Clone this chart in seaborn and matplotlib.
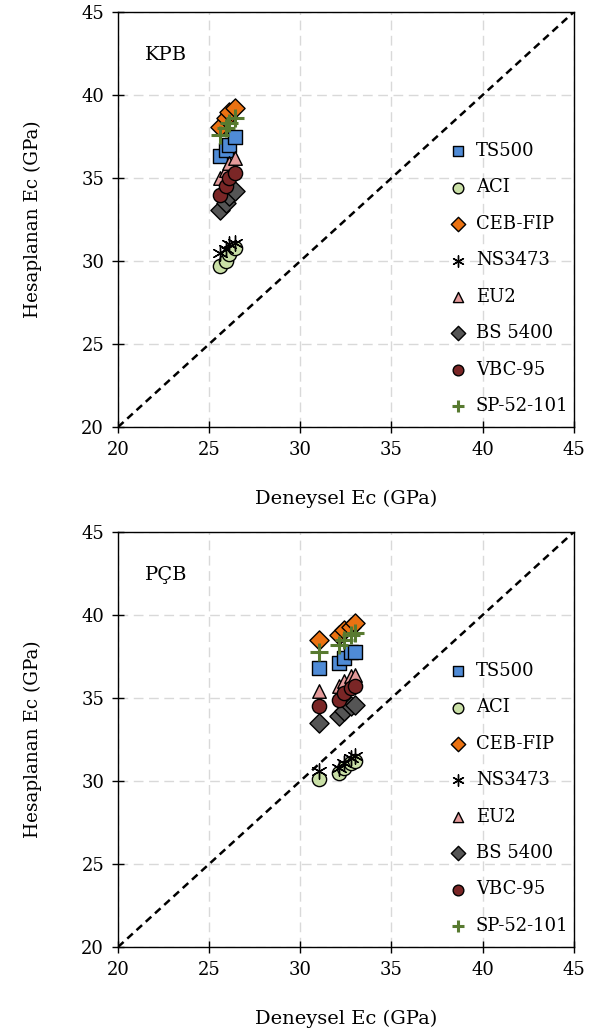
import matplotlib
matplotlib.use("Agg")
import matplotlib.pyplot as plt
import seaborn as sns
import pandas as pd

series = ["TS500", "ACI", "CEB-FIP", "NS3473", "EU2", "BS 5400", "VBC-95", "SP-52-101"]

# Top panel (KPB)
kpb_x = [25.6, 25.9, 26.1, 26.4]
kpb_vals = {
    "TS500":     [36.3, 36.7, 37.0, 37.5],
    "ACI":       [29.7, 30.0, 30.4, 30.8],
    "CEB-FIP":   [38.1, 38.6, 39.0, 39.2],
    "NS3473":    [30.5, 30.7, 31.0, 31.1],
    "EU2":       [35.0, 35.5, 35.9, 36.2],
    "BS 5400":   [33.1, 33.5, 33.9, 34.2],
    "VBC-95":    [34.0, 34.5, 35.0, 35.3],
    "SP-52-101": [37.6, 38.0, 38.3, 38.6],
}

# Bottom panel (PÇB)
pcb_x = [31.0, 32.1, 32.4, 32.8, 33.0]
pcb_vals = {
    "TS500":     [36.8, 37.1, 37.4, 37.8, 37.8],
    "ACI":       [30.1, 30.5, 30.8, 31.1, 31.2],
    "CEB-FIP":   [38.5, 38.8, 39.1, 39.3, 39.5],
    "NS3473":    [30.6, 30.8, 31.1, 31.4, 31.5],
    "EU2":       [35.4, 35.7, 36.0, 36.3, 36.4],
    "BS 5400":   [33.5, 33.9, 34.2, 34.5, 34.6],
    "VBC-95":    [34.5, 34.9, 35.3, 35.6, 35.7],
    "SP-52-101": [37.8, 38.2, 38.5, 38.8, 38.9],
}

panel_titles = ["KPB", "PÇB"]
ticks = [20, 25, 30, 35, 40, 45]

styles = {
    "TS500":     dict(marker="s", color="#4F8BD6"),
    "ACI":       dict(marker="o", color="#C9DFA6"),
    "CEB-FIP":   dict(marker="D", color="#EB7212"),
    "NS3473":    dict(marker=(6, 2, 0), color="black"),
    "EU2":       dict(marker="^", color="#E49A9A"),
    "BS 5400":   dict(marker="D", color="#555555"),
    "VBC-95":    dict(marker="o", color="#7A2626"),
    "SP-52-101": dict(marker="P", color="#587A30"),
}

sns.set_theme(style="white")
plt.rcParams["font.family"] = ["DejaVu Serif"]
plt.rcParams["text.color"] = "black"
plt.rcParams["axes.labelcolor"] = "black"

fig = plt.figure(figsize=(6.04, 10.36), dpi=100)
ax1 = fig.add_axes([0.1954, 0.5878, 0.7546, 0.4006])
ax2 = fig.add_axes([0.1954, 0.0859, 0.7546, 0.4006])

for ax, xs, vals, title in [(ax1, kpb_x, kpb_vals, panel_titles[0]), (ax2, pcb_x, pcb_vals, panel_titles[1])]:
    rows = []
    for s in series:
        for x, y in zip(xs, vals[s]):
            rows.append({"series": s, "x": x, "y": y})
    df = pd.DataFrame(rows)
    ax.plot([20, 45], [20, 45], linestyle=(0, (3, 2)), color="black", lw=1.8, zorder=1)
    for s in series:
        st = styles[s]
        sub = df[df["series"] == s]
        if s == "NS3473":
            sns.scatterplot(data=sub, x="x", y="y", ax=ax, marker=st["marker"], s=120,
                            color="black", linewidth=1.0, label=s, zorder=3)
        elif s == "SP-52-101":
            sns.scatterplot(data=sub, x="x", y="y", ax=ax, marker="+", s=150,
                            color=st["color"], linewidth=2.2, label=s, zorder=3)
        else:
            sz = 105 if st["marker"] in ("s", "o") else 95
            sns.scatterplot(data=sub, x="x", y="y", ax=ax, marker=st["marker"], s=sz,
                            color=st["color"], edgecolor="black", linewidth=1.0, label=s, zorder=3)
    ax.set_xlim(20, 45)
    ax.set_ylim(20, 45)
    ax.set_xticks(ticks)
    ax.set_yticks(ticks)
    ax.grid(True, color="#D9D9D9", linestyle=(0, (7, 4)), lw=1.0)
    ax.set_axisbelow(True)
    for sp in ax.spines.values():
        sp.set_color("black")
        sp.set_linewidth(1.0)
    ax.tick_params(axis="both", direction="inout", length=8, width=1, colors="black",
                   labelsize=13, bottom=True, left=True, pad=6)
    ax.set_xlabel("Deneysel Ec (GPa)", fontsize=14, labelpad=22)
    ax.set_ylabel("Hesaplanan Ec (GPa)", fontsize=13.2, labelpad=28)
    ax.text(21.5, 42.4, title, fontsize=14, ha="left", va="center")
    leg = ax.legend(loc="center left", bbox_to_anchor=(0.69, 0.358), frameon=False,
                    fontsize=13, handletextpad=0.0, labelspacing=1.02, markerscale=0.75,
                    borderaxespad=0)
    for t in leg.get_texts():
        t.set_color("black")

fig.savefig("out.png", dpi=100)
